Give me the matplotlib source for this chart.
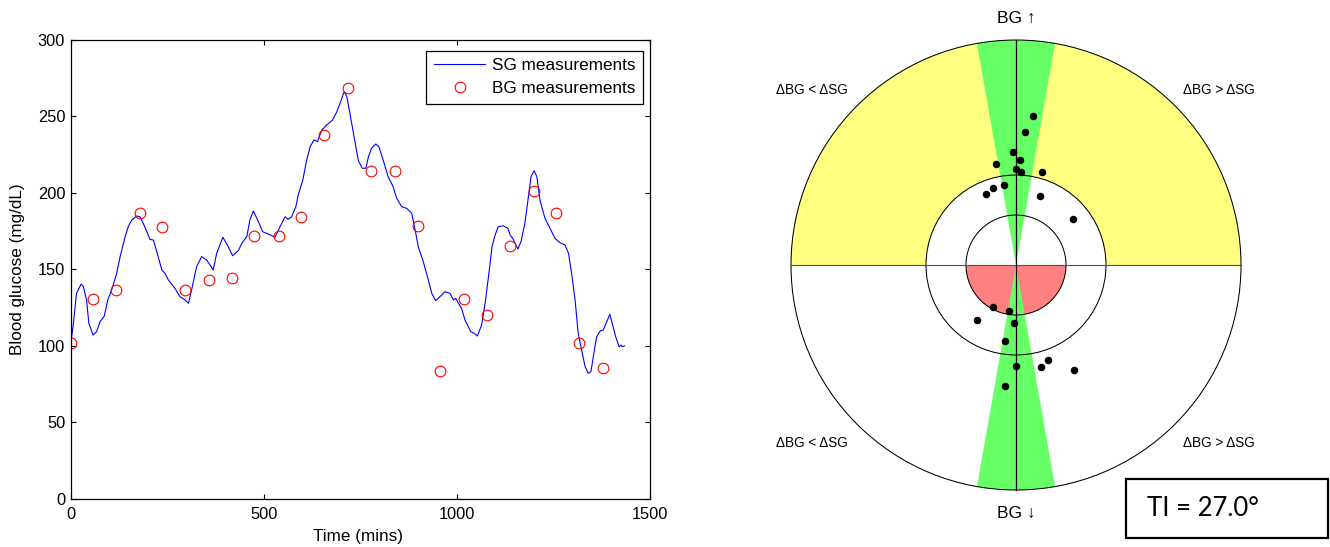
import matplotlib
matplotlib.use('Agg')
import matplotlib.pyplot as plt
from matplotlib.patches import Wedge, Circle, Rectangle

# ---------------- data ----------------
sg_time = [0, 7, 15, 27, 33, 41, 47, 58, 67, 76, 87, 96, 106, 119, 128, 141, 149, 158,
           171, 179, 188, 199, 205, 214, 223, 236, 244, 253, 270, 283, 296, 305, 313,
           326, 339, 352, 361, 369, 378, 394, 408, 419, 434, 443, 456, 464, 473, 486,
           497, 512, 529, 542, 555, 563, 572, 583, 589, 601, 611, 620, 630, 639, 650,
           663, 678, 689, 699, 708, 715, 723, 732, 737, 745, 755, 764, 771, 779, 790,
           798, 809, 822, 835, 844, 857, 870, 883, 892, 900, 913, 926, 935, 945, 956,
           969, 982, 991, 997, 1004, 1012, 1021, 1036, 1045, 1053, 1064, 1073, 1084,
           1091, 1099, 1107, 1120, 1132, 1138, 1146, 1158, 1166, 1176, 1185, 1192, 1200,
           1207, 1215, 1228, 1241, 1254, 1267, 1280, 1289, 1297, 1306, 1314, 1323, 1332,
           1340, 1347, 1356, 1362, 1371, 1379, 1388, 1396, 1402, 1411, 1420, 1425, 1428,
           1434]
sg_value = [101, 114.7, 134.3, 140.4, 138.7, 130, 114.7, 107, 109.2, 115.8, 119.5, 130,
            136.5, 147.4, 158.3, 171.4, 177.9, 182.3, 184.9, 184.4, 180, 173.6, 169.6,
            169.2, 161.5, 149.6, 147.4, 143, 137.6, 132.1, 130, 127.8, 136.5, 151.7, 158.3,
            156.1, 152.8, 149.6, 160.5, 171, 164.8, 158.9, 162.2, 167, 171.4, 182.3, 188.2,
            181.2, 174.6, 173.1, 171, 177.9, 184.4, 182.7, 184.4, 191, 198.6, 208.4, 221.5,
            230.2, 234.6, 233.5, 241.1, 244.4, 247.7, 253.1, 259.6, 266.2, 262.9, 252, 239,
            232, 221, 216.1, 216.1, 223.7, 229.2, 232, 230.2, 221.5, 210.6, 204, 196.5, 191,
            189.9, 186.6, 175.7, 164.8, 155, 143, 134.3, 129.5, 132.1, 135.4, 134.3, 130,
            131, 127.8, 124.5, 116.9, 109.2, 108.2, 106.4, 113.6, 127.8, 149.6, 165, 172.5,
            177.9, 178.5, 176.8, 172.5, 169.6, 163.3, 168.1, 180.1, 197.5, 210.6, 214.5,
            210.6, 195.4, 183.4, 176.8, 170.3, 167.4, 165.9, 160.5, 147.4, 130, 108.2, 97.3,
            86.3, 82, 83.1, 97.3, 106, 109.7, 110.3, 115.8, 120.6, 114.7, 106, 99.4, 100.5,
            99.4, 100]

bg_time = [0, 58, 117, 179, 237, 297, 358, 418, 475, 539, 596, 655, 718, 777, 840, 898,
           956, 1019, 1077, 1137, 1199, 1257, 1316, 1378]
bg_value = [101.6, 130.4, 136.7, 186.6, 177.7, 136.7, 142.8, 144.5, 171.6, 171.6, 184,
            238, 268.8, 214.5, 214.5, 178.5, 83.5, 130.6, 120.1, 165.5, 201.2, 186.6,
            101.8, 85.3]

# trend-plot points (horizontal / vertical position in the polar grid)
trend_x = [17, 9, -3, 3.7, -20.3, -0.3, 5.3, 26.3, -12.3, -23, -29.7, 23.7, 57.3,
           -23, -7.3, -39, -1.7, -11, -0.3, 25, 31.7, -11, 58.3]
trend_y = [149.3, 133.3, 113.3, 105, 101.3, 96, 93, 93, 80.3, 77, 71, 69.3, 46.3,
           -41.7, -45.7, -55.3, -57.7, -76.3, -100.7, -102, -95, -120.7, -105.3]

x_ticks = [0, 500, 1000, 1500]
y_ticks = [0, 50, 100, 150, 200, 250, 300]
ti_label = "TI = 27.0°"

# ---------------- figure ----------------
plt.rcParams['font.family'] = ['Liberation Sans', 'DejaVu Sans']
W, H = 1330, 547
fig = plt.figure(figsize=(W / 100, H / 100), dpi=100)

FS = 12.3

# left panel
ax = fig.add_axes([70.7 / W, (H - 498.7) / H, 579.3 / W, 458.7 / H])
ax.plot(sg_time, sg_value, color='#0000FF', lw=0.8, label='SG measurements')
ax.plot(bg_time, bg_value, ls='none', marker='o', mfc='none', mec='#FF0000',
        ms=7.7, mew=0.8, label='BG measurements')
ax.set_xlim(0, 1500)
ax.set_ylim(0, 300)
ax.set_xticks(x_ticks)
ax.set_yticks(y_ticks)
ax.tick_params(direction='in', top=True, right=True, length=3.5, width=0.8,
               labelsize=11.8)
ax.tick_params(axis='x', pad=6)
ax.tick_params(axis='y', pad=4)
for s in ax.spines.values():
    s.set_linewidth(0.9)
ax.set_xlabel('Time (mins)', fontsize=FS)
ax.set_ylabel('Blood glucose (mg/dL)', fontsize=FS)
ax.xaxis.set_label_coords(0.496, -0.066)
ax.yaxis.set_label_coords(-0.079, 0.5)
leg = ax.legend(loc='upper right', bbox_to_anchor=(0.9885, 0.9767), borderaxespad=0,
                fancybox=False, edgecolor='black', framealpha=1, fontsize=FS,
                handlelength=3.0, handletextpad=0.4, borderpad=0.45, labelspacing=0.45)
leg.get_frame().set_linewidth(0.9)

# right panel (1 data unit = 1 pixel)
ax2 = fig.add_axes([766 / W, (H - 515) / H, 500 / W, 500 / H])
ax2.set_xlim(-250, 250)
ax2.set_ylim(-250, 250)
ax2.axis('off')

R_OUT, R_MID, R_IN = 225, 90, 50
HALF_ANGLE = 10
ax2.add_patch(Wedge((0, 0), R_OUT, 0, 180, width=R_OUT - R_MID,
                    facecolor='#FFFF80', edgecolor='none'))
ax2.add_patch(Wedge((0, 0), R_IN, 180, 360, facecolor='#FF8080', edgecolor='none'))
ax2.add_patch(Wedge((0, 0), R_OUT, 90 - HALF_ANGLE, 90 + HALF_ANGLE,
                    facecolor='#66FF66', edgecolor='none'))
ax2.add_patch(Wedge((0, 0), R_OUT, 270 - HALF_ANGLE, 270 + HALF_ANGLE,
                    facecolor='#66FF66', edgecolor='none'))
for r in (R_OUT, R_MID, R_IN):
    ax2.add_patch(Circle((0, 0), r, fill=False, edgecolor='black', lw=0.75))
ax2.plot([-R_OUT, R_OUT], [0, 0], color='#505050', lw=0.8)
ax2.plot([0, 0], [-R_OUT, R_OUT], color='black', lw=0.9)
ax2.plot(trend_x, trend_y, ls='none', marker='o', color='black', ms=4.4)

ax2.text(0, 247, 'BG ↑', ha='center', va='center', fontsize=12.5)
ax2.text(0, -248, 'BG ↓', ha='center', va='center', fontsize=12.5)
ax2.text(-204, 175, 'ΔBG < ΔSG', ha='center', va='center', fontsize=9.8)
ax2.text(203, 175, 'ΔBG > ΔSG', ha='center', va='center', fontsize=9.8)
ax2.text(-204, -178, 'ΔBG < ΔSG', ha='center', va='center', fontsize=9.8)
ax2.text(203, -178, 'ΔBG > ΔSG', ha='center', va='center', fontsize=9.8)

# TI box
fig.add_artist(Rectangle((1125.7 / W, (H - 538.3) / H), 202.6 / W, 59.3 / H,
                         transform=fig.transFigure, fill=False, edgecolor='black',
                         lw=1.6))
fig.text(1146.7 / W, (H - 508.3) / H, ti_label, ha='left', va='center',
         fontsize=18.5, family=['Lato', 'DejaVu Sans'])

fig.savefig('out.png', dpi=100)
